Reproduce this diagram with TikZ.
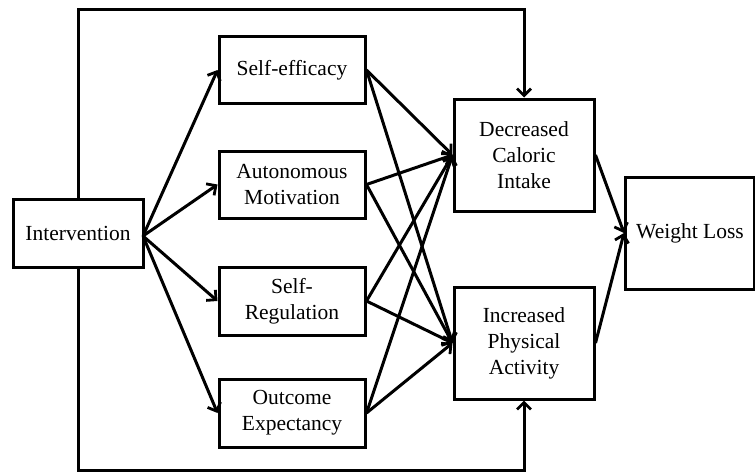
\documentclass[tikz,border=0pt]{standalone}
\usepackage{fontspec}
\setmainfont{Liberation Serif}
\usetikzlibrary{arrows.meta}
\begin{document}
\begin{tikzpicture}[x=1pt,y=-1pt,
  box/.style={draw,line width=3pt,inner sep=0pt,align=center,
    font=\fontsize{21.5}{26}\selectfont},
  conn/.style={line width=3pt,-{Straight Barb[length=7pt,width=14pt,line width=2.8pt]}}]
\useasboundingbox (0,0) rectangle (755,475);
\node[box,minimum width=130pt,minimum height=68pt] (int) at (78,233) {Intervention};
\node[box,minimum width=146pt,minimum height=67pt] (se) at (292,70) {Self-efficacy};
\node[box,minimum width=146pt,minimum height=67pt] (am) at (292,184.5) {Autonomous\\Motivation};
\node[box,minimum width=146pt,minimum height=68pt] (sr) at (292,301) {Self-\\Regulation};
\node[box,minimum width=146pt,minimum height=68pt] (oe) at (292,413) {Outcome\\Expectancy};
\node[box,minimum width=140pt,minimum height=112pt] (dci) at (524,155) {Decreased\\Caloric\\Intake};
\node[box,minimum width=140pt,minimum height=112pt] (ipa) at (524,343) {Increased\\Physical\\Activity};
\node[box,minimum width=129pt,minimum height=112pt,anchor=west] (wl) at (624,233) {Weight Loss};
\coordinate (o) at (143,236);
\coordinate (t1) at (78,9);
\coordinate (t2) at (524,9);
\coordinate (b1) at (78,470);
\coordinate (b2) at (524,470);
\foreach \n in {se,am,sr,oe} \draw[conn] (o) -- (\n.west);
\foreach \n in {se,am,sr,oe} {
  \draw[conn] (\n.east) -- (dci.west);
  \draw[conn] (\n.east) -- (ipa.west);
}
\draw[conn] (dci.east) -- (wl.west);
\draw[conn] (ipa.east) -- (wl.west);
\draw[conn] (int.north -| t1) -- (t1) -- (t2) -- (dci.north);
\draw[conn] (int.south -| b1) -- (b1) -- (b2) -- (ipa.south);
\end{tikzpicture}
\end{document}
